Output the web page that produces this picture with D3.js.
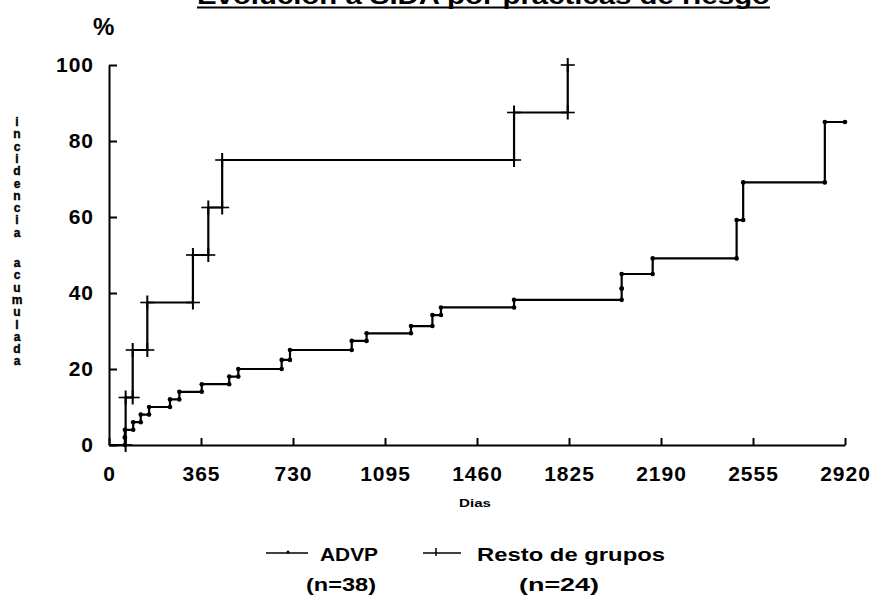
<!DOCTYPE html>
<html>
<head>
<meta charset="utf-8">
<script src="https://cdn.jsdelivr.net/npm/d3@7"></script>
<style>
  body { margin: 0; background: #fff; }
  svg text { font-family: "Liberation Sans", Arial, sans-serif; font-weight: bold; fill: #000; }
</style>
</head>
<body>
<svg width="879" height="606"></svg>
<script>
// days since diagnosis and cumulative incidence (%)
const advpDays = [63, 63, 96, 126, 159, 242, 279, 368, 477, 513, 685, 718, 963, 1022, 1198, 1283, 1317, 1607, 2034, 2034, 2157, 2490, 2516, 2840];
const advpPct  = [2, 4, 6, 8, 10, 12, 14, 16, 18, 20, 22.4, 25, 27.4, 29.4, 31.3, 34.2, 36.2, 38.2, 41.2, 45, 49.1, 59.2, 69.1, 85];
const advpEnd = 2920;

const restoDays = [66, 94, 152, 333, 394, 449, 1607, 1820];
const restoPct  = [12.5, 25, 37.5, 50, 62.5, 75, 87.5, 100];
const restoEnd = 1820;

const xTicks = [0, 365, 730, 1095, 1460, 1825, 2190, 2555, 2920];
const yTicks = [0, 20, 40, 60, 80, 100];

const svg = d3.select("svg");

const x = d3.scaleLinear().domain([0, 2920]).range([109, 845]);
const y = d3.scaleLinear().domain([0, 100]).range([445, 65]);

// title, cut off at the top of the page like in the scan
svg.append("text")
  .attr("x", 197).attr("y", 4)
  .attr("textLength", 573).attr("lengthAdjust", "spacingAndGlyphs")
  .style("font-size", "24px")
  .text("Evolución a SIDA por prácticas de riesgo");
svg.append("rect").attr("x", 197).attr("y", 6.5).attr("width", 573).attr("height", 2).attr("fill", "#000");

// axes
const xAxis = svg.append("g")
  .attr("transform", "translate(0," + y(0) + ")")
  .call(d3.axisBottom(x).tickValues(xTicks).tickSizeInner(-7).tickSizeOuter(0).tickPadding(21).tickFormat(d3.format("d")));

const yAxis = svg.append("g")
  .attr("transform", "translate(" + x(0) + ",0)")
  .call(d3.axisLeft(y).tickValues(yTicks).tickSizeInner(-8).tickSizeOuter(0).tickPadding(15));

[xAxis, yAxis].forEach((ax) => {
  ax.select(".domain").attr("stroke-width", 2);
  ax.selectAll(".tick line").attr("stroke-width", 2);
  ax.selectAll("text")
    .attr("fill", "#000")
    .style("font-size", "21px")
    .style("font-family", "'Liberation Sans', Arial, sans-serif")
    .style("font-weight", "bold")
    .style("letter-spacing", "1px");
});

svg.append("text").attr("x", 93).attr("y", 35).style("font-size", "24px").text("%");

svg.append("text")
  .attr("x", 459).attr("y", 507)
  .attr("textLength", 32).attr("lengthAdjust", "spacingAndGlyphs")
  .style("font-size", "11px")
  .text("Dias");

// vertical y label, one upright letter under the other
const yLabel = "incidencia acumulada".split("");
let ly = 126;
yLabel.forEach((ch) => {
  if (ch === " ") { ly += 18; return; }
  svg.append("text")
    .attr("x", 17).attr("y", ly)
    .attr("text-anchor", "middle")
    .style("font-size", "12px")
    .style("font-weight", "900")
    .attr("stroke", "#000").attr("stroke-width", 0.4)
    .text(ch);
  ly += 12.3;
});

// build step paths: [day, pct] pairs
function stepPoints(days, pct, end) {
  const pts = [[0, 0]];
  days.forEach((d, i) => pts.push([d, pct[i]]));
  pts.push([end, pct[pct.length - 1]]);
  return pts;
}

const step = d3.line()
  .x((d) => x(d[0]))
  .y((d) => y(d[1]))
  .curve(d3.curveStepAfter);

const advpPts = stepPoints(advpDays, advpPct, advpEnd);
const restoPts = stepPoints(restoDays, restoPct, restoEnd);

svg.append("path").datum(advpPts).attr("d", step)
  .attr("fill", "none").attr("stroke", "#000").attr("stroke-width", 2.2);
svg.append("path").datum(restoPts).attr("d", step)
  .attr("fill", "none").attr("stroke", "#000").attr("stroke-width", 2.2);

// marker positions at both corners of every step
function corners(days, pct) {
  const out = [];
  days.forEach((d, i) => {
    out.push([d, i === 0 ? 0 : pct[i - 1]]);
    out.push([d, pct[i]]);
  });
  return out;
}

svg.append("g").selectAll("circle")
  .data(corners(advpDays, advpPct).concat([[advpEnd, advpPct[advpPct.length - 1]]]))
  .join("circle")
  .attr("cx", (d) => x(d[0])).attr("cy", (d) => y(d[1]))
  .attr("r", 2.3).attr("fill", "#000");

const cross = svg.append("g").selectAll("g")
  .data(corners(restoDays, restoPct))
  .join("g")
  .attr("transform", (d) => "translate(" + x(d[0]) + "," + y(d[1]) + ")");
cross.append("line").attr("x1", -7).attr("x2", 7).attr("stroke", "#000").attr("stroke-width", 1.6);
cross.append("line").attr("y1", -7).attr("y2", 7).attr("stroke", "#000").attr("stroke-width", 2);

// legend
const lg = svg.append("g");
lg.append("line").attr("x1", 266).attr("x2", 308).attr("y1", 553).attr("y2", 553).attr("stroke", "#000").attr("stroke-width", 1.5);
lg.append("circle").attr("cx", 288).attr("cy", 552).attr("r", 1.5).attr("fill", "#000");
lg.append("line").attr("x1", 423).attr("x2", 461).attr("y1", 553).attr("y2", 553).attr("stroke", "#000").attr("stroke-width", 1.5);
lg.append("line").attr("x1", 436).attr("x2", 436).attr("y1", 548).attr("y2", 556).attr("stroke", "#000").attr("stroke-width", 1.5);

const legendTexts = [
  { t: "ADVP", x: 320, y: 561, w: 58 },
  { t: "Resto de grupos", x: 477, y: 561, w: 188 },
  { t: "(n=38)", x: 306, y: 591, w: 70 },
  { t: "(n=24)", x: 519, y: 591, w: 80 }
];
lg.selectAll("text").data(legendTexts).join("text")
  .attr("x", (d) => d.x).attr("y", (d) => d.y)
  .attr("textLength", (d) => d.w).attr("lengthAdjust", "spacingAndGlyphs")
  .style("font-size", "19px")
  .text((d) => d.t);
</script>
</body>
</html>
